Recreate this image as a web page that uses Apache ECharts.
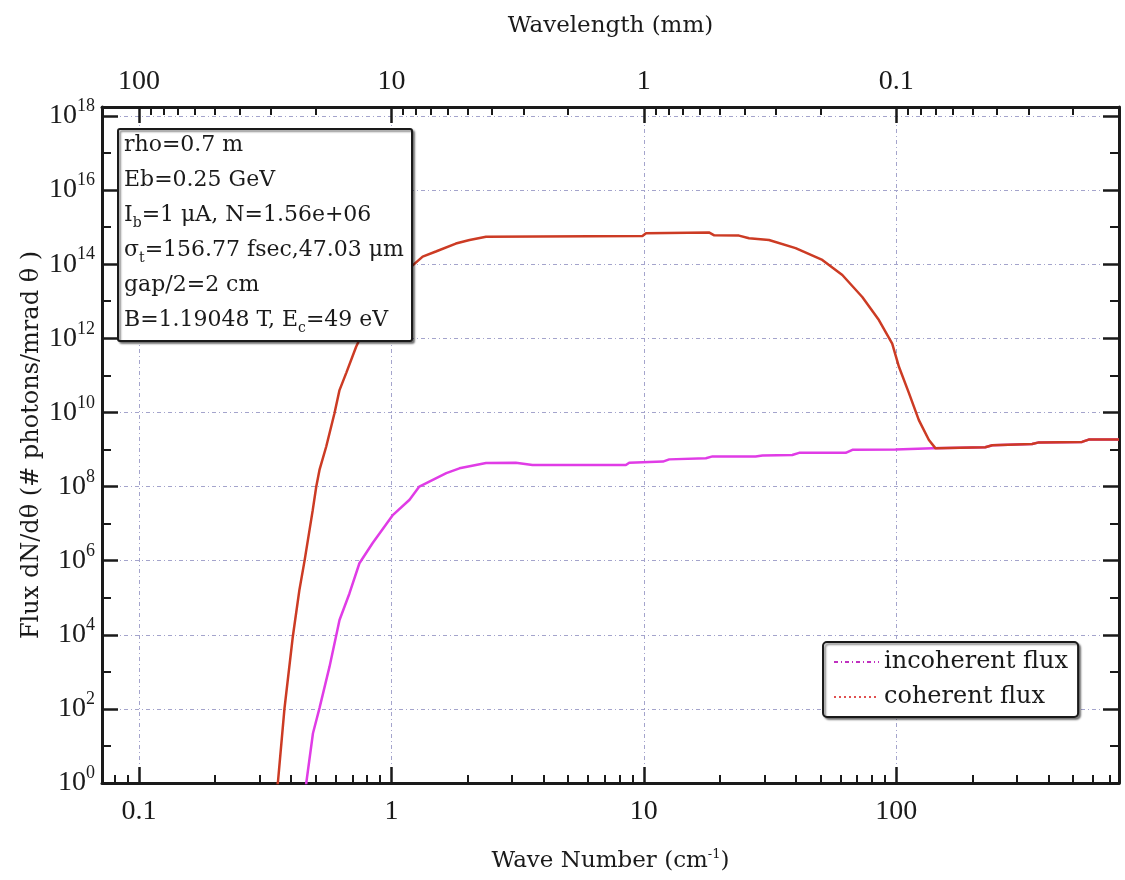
<!DOCTYPE html>
<html><head><meta charset="utf-8">
<script src="https://cdn.jsdelivr.net/npm/echarts@6/dist/echarts.min.js"></script>
<style>html,body{margin:0;padding:0;background:#fff}#c{width:1125px;height:880px}</style>
</head><body><div id="c"></div>
<script>
// ---- data (wave number in cm^-1, flux in photons / mrad theta) ----
const waveNumberIncoherent = [0.455, 0.460, 0.489, 0.519, 0.569, 0.623, 0.682, 0.747, 0.843, 1.01, 1.18, 1.29, 1.65, 1.86, 2.37, 3.11, 3.62, 8.49, 8.75, 11.9, 12.6, 17.6, 18.7, 27.7, 29.5, 38.7, 41.2, 63, 67, 99.3, 139, 225, 240, 345, 367, 544, 578, 762];
const fluxIncoherent = [0.5, 1, 22, 105, 1.4e3, 2.5e4, 1.3e5, 8.5e5, 3e6, 1.66e7, 4.4e7, 1e8, 2.3e8, 3.1e8, 4.3e8, 4.4e8, 3.8e8, 3.8e8, 4.4e8, 4.7e8, 5.4e8, 5.8e8, 6.5e8, 6.5e8, 6.9e8, 7.1e8, 8.1e8, 8.1e8, 9.8e8, 1.0e9, 1.07e9, 1.15e9, 1.3e9, 1.4e9, 1.55e9, 1.6e9, 1.85e9, 1.85e9];
const waveNumberCoherent = [0.35, 0.355, 0.377, 0.407, 0.432, 0.453, 0.488, 0.504, 0.519, 0.552, 0.595, 0.623, 0.662, 0.725, 0.80, 0.90, 1.02, 1.18, 1.33, 1.50, 1.80, 2.04, 2.37, 9.87, 10.2, 18.1, 19.0, 23.8, 26.1, 31.3, 39.9, 50.9, 61.1, 73.3, 85.3, 96.3, 102.4, 112.2, 122.8, 134.6, 143, 225, 240, 345, 367, 544, 578, 762];
const fluxCoherent = [0.5, 1, 1e2, 9e3, 1.6e5, 1e6, 2.3e7, 1e8, 2.8e8, 1.2e9, 9.5e9, 4e10, 1.15e11, 5.9e11, 2.5e12, 1e13, 3.2e13, 7.8e13, 1.6e14, 2.2e14, 3.6e14, 4.5e14, 5.5e14, 5.75e14, 6.8e14, 7.2e14, 6.0e14, 5.9e14, 5.0e14, 4.5e14, 2.7e14, 1.3e14, 5.1e13, 1.3e13, 3.1e12, 7.2e11, 1.7e11, 3.3e10, 6.2e9, 1.8e9, 1.07e9, 1.15e9, 1.3e9, 1.4e9, 1.55e9, 1.6e9, 1.85e9, 1.85e9];
const seriesNames = ['incoherent flux', 'coherent flux'];

// ---- axes ----
const waveRange = [0.0714, 762];
const fluxRange = [1, 1.74e18];
const waveMajorTicks = [0.1, 1, 10, 100];
const waveMinorTicks = [0.08, 0.09, 0.2, 0.3, 0.4, 0.5, 0.6, 0.7, 0.8, 0.9, 2, 3, 4, 5, 6, 7, 8, 9, 20, 30, 40, 50, 60, 70, 80, 90, 200, 300, 400, 500, 600, 700];
const wavelengthMajorTicks = [100, 10, 1, 0.1];
const wavelengthMinorTicks = [90, 80, 70, 60, 50, 40, 30, 20, 9, 8, 7, 6, 5, 4, 3, 2, 0.9, 0.8, 0.7, 0.6, 0.5, 0.4, 0.3, 0.2, 0.09, 0.08, 0.07, 0.06, 0.05, 0.04, 0.03, 0.02];
const fluxMajorExponents = [0, 2, 4, 6, 8, 10, 12, 14, 16, 18];
const fluxMinorExponents = [1, 3, 5, 7, 9, 11, 13, 15, 17];

const xTitle = 'Wave Number (cm{s|-1})';
const xTopTitle = 'Wavelength (mm)';
const yTitle = 'Flux dN/dθ (# photons/mrad θ )';
const infoText = '{t|rho=0.7 m}\n{t|Eb=0.25 GeV}\n{t|I}{sub|b}{t|=1 μA, N=1.56e+06}\n{t|σ}{sub|t}{t|=156.77 fsec,47.03 μm}\n{t|gap/2=2 cm}\n{t|B=1.19048 T, E}{sub|c}{t|=49 eV}';

// ---- build ----
const L = Math.log10;
const NUMFONT = 'Liberation Serif';
const FONT = 'DejaVu Serif';
const INK = '#1a1a1a';
const toPts = (xs, ys) => xs.map((x, i) => [L(x), L(ys[i])]);
const xMin = L(waveRange[0]), xMax = L(waveRange[1]);
const yMin = L(fluxRange[0]), yMax = L(fluxRange[1]);
const wlToK = wl => 10 / wl;
const grid = { show: true, lineStyle: { color: '#a4a4cc', width: 1, type: [4, 3, 1, 3] } };
const fmt = v => String(parseFloat(v.toPrecision(3)));
const noLine = { show: false, onZero: false };
const frame = { show: true, onZero: false, lineStyle: { color: INK, width: 3 } };

function xAx(pos, major, vals, extra) {
  return Object.assign({
    type: 'value', min: xMin, max: xMax, position: pos, gridIndex: 0,
    axisLine: major ? frame : noLine,
    axisTick: { show: true, inside: true, length: major ? 16 : 8, customValues: vals, lineStyle: { color: INK, width: major ? 2.5 : 2 } },
    axisLabel: { show: false },
    splitLine: { show: false }
  }, extra || {});
}
function yAx(pos, major, vals, extra) {
  return Object.assign({
    type: 'value', min: yMin, max: yMax, position: pos, gridIndex: 0,
    axisLine: major ? frame : noLine,
    axisTick: { show: true, inside: true, length: major ? 16 : 9, customValues: vals, lineStyle: { color: INK, width: major ? 2.5 : 2 } },
    axisLabel: { show: false },
    splitLine: { show: false }
  }, extra || {});
}

const kMaj = waveMajorTicks.map(L);
const kMin = waveMinorTicks.map(L);
const wlMaj = wavelengthMajorTicks.map(w => L(wlToK(w)));
const wlMin = wavelengthMinorTicks.map(w => L(wlToK(w)));

const option = {
  backgroundColor: '#fff',
  animation: false,
  grid: { left: 102, right: 6, top: 107, bottom: 97, containLabel: false },
  title: {
    text: infoText, left: 118, top: 122,
    padding: [6, 8, 6, 6], backgroundColor: '#fff', borderColor: INK, borderWidth: 2, borderRadius: 2,
    shadowColor: 'rgba(0,0,0,0.45)', shadowOffsetX: 2, shadowOffsetY: 2, shadowBlur: 2,
    textStyle: {
      fontWeight: 'normal',
      rich: {
        t: { fontFamily: FONT, fontSize: 22, fontWeight: 'normal', color: INK, lineHeight: 35 },
        sub: { fontFamily: FONT, fontSize: 14, fontWeight: 'normal', color: INK, lineHeight: 16, padding: [16, 0, 0, 0] }
      }
    }
  },
  legend: {
    orient: 'vertical', left: 823, top: 642, selectedMode: false,
    itemWidth: 45, itemHeight: 14, itemGap: 7,
    padding: [6, 10, 6, 10], backgroundColor: '#fff', borderColor: INK, borderWidth: 2, borderRadius: 4,
    shadowColor: 'rgba(0,0,0,0.45)', shadowOffsetX: 2, shadowOffsetY: 2, shadowBlur: 2,
    textStyle: { fontFamily: FONT, fontSize: 24, color: INK, lineHeight: 28 },
    data: [
      { name: seriesNames[0], itemStyle: { opacity: 0 }, lineStyle: { type: [4, 3, 1, 3], color: '#c030c0', width: 2 } },
      { name: seriesNames[1], itemStyle: { opacity: 0 }, lineStyle: { type: [2, 3], color: '#e05050', width: 2 } }
    ]
  },
  xAxis: [
    xAx('bottom', true, kMaj, {
      axisLabel: { show: true, customValues: kMaj, margin: 15, formatter: v => fmt(Math.pow(10, v)), fontFamily: NUMFONT, fontSize: 28, color: INK },
      splitLine: grid,
      name: xTitle, nameLocation: 'middle', nameGap: 65, nameMoveOverlap: false,
      nameTextStyle: { fontFamily: FONT, fontSize: 23, color: INK, rich: { s: { fontFamily: FONT, fontSize: 13, color: INK, padding: [0, 0, 14, 0] } } }
    }),
    xAx('bottom', false, kMin),
    xAx('top', true, wlMaj, {
      axisLabel: { show: true, customValues: wlMaj, margin: 11, formatter: v => fmt(10 / Math.pow(10, v)), fontFamily: NUMFONT, fontSize: 28, color: INK },
      name: xTopTitle, nameLocation: 'middle', nameGap: 69, nameMoveOverlap: false,
      nameTextStyle: { fontFamily: FONT, fontSize: 23, color: INK }
    }),
    xAx('top', false, wlMin)
  ],
  yAxis: [
    yAx('left', true, fluxMajorExponents, {
      axisLabel: { show: true, customValues: fluxMajorExponents, margin: 7, formatter: v => '10{s|' + Math.round(v) + '}', fontFamily: NUMFONT, fontSize: 28, color: INK,
        rich: { s: { fontFamily: NUMFONT, fontSize: 18, color: INK, padding: [0, 0, 19, 0] } } },
      splitLine: grid,
      name: yTitle, nameLocation: 'middle', nameRotate: 90, nameGap: 58, nameMoveOverlap: false,
      nameTextStyle: { fontFamily: FONT, fontSize: 24, color: INK }
    }),
    yAx('left', false, fluxMinorExponents),
    yAx('right', true, fluxMajorExponents),
    yAx('right', false, fluxMinorExponents)
  ],
  series: [
    { name: seriesNames[0], type: 'line', xAxisIndex: 0, yAxisIndex: 0, data: toPts(waveNumberIncoherent, fluxIncoherent),
      symbol: 'none', showSymbol: false, clip: true, z: 3, color: '#e03ce6',
      lineStyle: { color: '#e03ce6', width: 2.5 } },
    { name: seriesNames[1], type: 'line', xAxisIndex: 0, yAxisIndex: 0, data: toPts(waveNumberCoherent, fluxCoherent),
      symbol: 'none', showSymbol: false, clip: true, z: 4, color: '#cc3b24',
      lineStyle: { color: '#cc3b24', width: 2.5 } }
  ]
};
const chart = echarts.init(document.getElementById('c'), null, { renderer: 'canvas' });
chart.setOption(option);
</script>
</body></html>
